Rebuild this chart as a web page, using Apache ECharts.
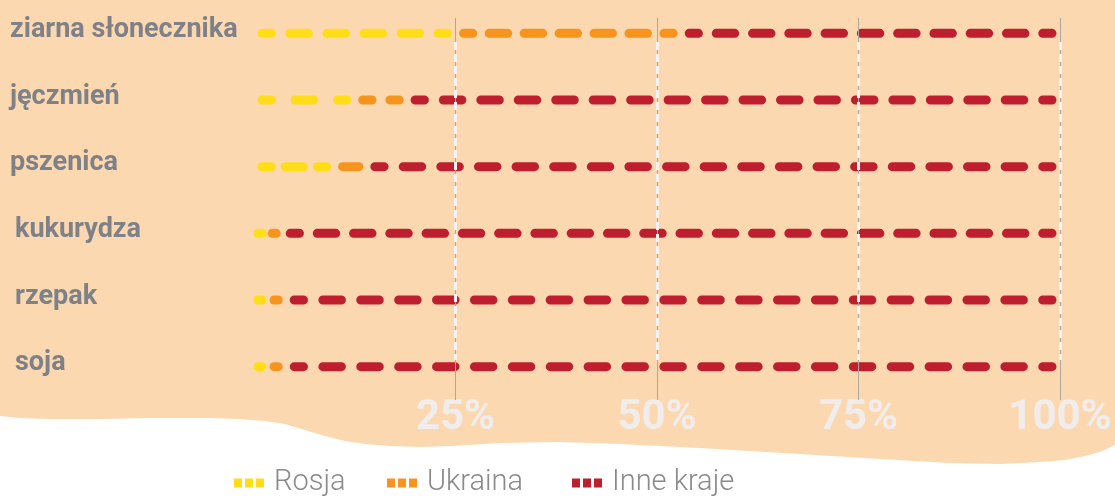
<!DOCTYPE html>
<html>
<head>
<meta charset="utf-8">
<script src="https://cdn.jsdelivr.net/npm/echarts@6/dist/echarts.min.js"></script>
<style>html,body{margin:0;padding:0;background:#fff}#c{width:1115px;height:500px}</style>
</head>
<body>
<div id="c"></div>
<script>
const categories = ['ziarna słonecznika', 'jęczmień', 'pszenica', 'kukurydza', 'rzepak', 'soja'];
const seriesNames = ['Rosja', 'Ukraina', 'Inne kraje'];
const rosja = [25, 12.5, 10, 1.5, 1.5, 1.5];
const ukraina = [28, 6.5, 4, 2, 2.5, 2.5];
const inne = [47, 81, 86, 96.5, 96, 96];
const xTicks = [0, 25, 50, 75, 100];

const colors = ['#FFDD17', '#F7941D', '#BE1E2D'];
const font = "Roboto, 'DejaVu Sans Condensed', sans-serif";

const all = [rosja, ukraina, inne];
const stacked = all.map((arr, si) => arr.map((v, ci) => {
  let start = 0;
  for (let k = 0; k < si; k++) start += all[k][ci];
  return [start, start + v, ci];
}));

const DASH = 18.5, PERIOD = 37;
function renderItem(params, api) {
  const s = api.value(0), e = api.value(1), c = api.value(2);
  const p0 = api.coord([s, c]);
  const p1 = api.coord([e, c]);
  const len = p1[0] - p0[0];
  const inset = Math.min(8, Math.max(0, len / 2 - 2));
  const x0 = p0[0] + inset, x1 = p1[0] - inset;
  const lu = x1 - x0;
  const style = { stroke: api.visual('color'), lineWidth: 9, lineCap: 'round' };
  if (lu >= DASH + 4) {
    let n = Math.max(1, Math.round(lu / PERIOD));
    let gap = lu / n - DASH;
    if (n > 1 && gap < 8) { n -= 1; gap = lu / n - DASH; }
    style.lineDash = [DASH, gap];
    style.lineDashOffset = DASH / 2;
  }
  return {
    type: 'line',
    shape: { x1: x0, y1: p0[1], x2: x1, y2: p0[1] },
    style: style
  };
}

const bgShape = [[0,0],[1115,0],[1115,445],[1100,452],[1085,456],[1065,460],[1040,462],[1000,464],[950,463],[880,459],[800,454],[700,448],[620,444],[560,442],[500,443],[450,446],[420,447],[390,446],[365,444],[345,441],[325,436],[305,430],[285,424],[265,421],[240,419],[210,418],[150,418],[100,419],[50,419],[20,418],[0,416]];

const chart = echarts.init(document.getElementById('c'), null, { renderer: 'canvas' });
const legendIcon = 'path://M0,0H8V9H0Z M11,0H19V9H11Z M22,0H30V9H22Z';
const legendBase = {
  orient: 'horizontal', top: 465, padding: 0, itemWidth: 30, itemHeight: 9, icon: legendIcon,
  selectedMode: false,
  textStyle: { fontFamily: font, fontWeight: 300, fontSize: 29, color: '#8a8a8a', lineHeight: 36, padding: [0, 0, 0, 5] }
};
const lefts = [234, 387, 572];

chart.setOption({
  animation: false,
  color: colors,
  graphic: [{
    type: 'polygon',
    z: -10,
    silent: true,
    shape: { points: bgShape },
    style: { fill: '#FBD8B0' }
  }],
  legend: seriesNames.map((n, i) => Object.assign({}, legendBase, { data: [n], left: lefts[i] })),
  grid: [
    { left: 254, right: 55, top: 0, height: 400 },
    { left: 254, right: 55, top: 18, height: 382 },
    { left: 254, right: 55, top: 42, height: 318 }
  ],
  xAxis: [
    {
      gridIndex: 0, type: 'value', min: xTicks[0], max: xTicks[xTicks.length - 1], interval: 25,
      axisLine: { show: false }, axisTick: { show: false }, splitLine: { show: false },
      axisLabel: {
        showMinLabel: false, margin: 18, verticalAlign: 'middle',
        formatter: v => v === 0 ? '' : v + '%',
        fontFamily: font, fontWeight: 'bold', fontSize: 42, color: '#F1EDED'
      }
    },
    {
      gridIndex: 1, type: 'value', min: 0, max: 100, interval: 25, z: 5,
      axisLine: { show: false }, axisTick: { show: false }, axisLabel: { show: false },
      splitLine: { show: true, showMinLine: false, lineStyle: { color: '#AFA79C', width: 1 } }
    },
    {
      gridIndex: 2, type: 'value', min: 0, max: 100, interval: 25, z: 6,
      axisLine: { show: false }, axisTick: { show: false }, axisLabel: { show: false },
      splitLine: { show: true, showMinLine: false, lineStyle: { color: '#F5F3F1', width: 3, type: [8, 4] } }
    }
  ],
  yAxis: [
    {
      gridIndex: 0, type: 'category', inverse: true, data: categories,
      axisLine: { show: false }, axisTick: { show: false }, splitLine: { show: false },
      axisLabel: {
        align: 'left', margin: 244, interval: 0,
        formatter: (v, i) => (i < 3 ? '{a|' : '{b|') + v + '}',
        rich: {
          a: { fontFamily: font, fontWeight: 'bold', fontSize: 27, color: '#7E8187', padding: [0, 0, 6, 0] },
          b: { fontFamily: font, fontWeight: 'bold', fontSize: 27, color: '#7E8187', padding: [0, 0, 6, 5] }
        }
      }
    },
    { gridIndex: 1, type: 'value', min: 0, max: 1, show: false },
    { gridIndex: 2, type: 'value', min: 0, max: 1, show: false }
  ],
  series: seriesNames.map((n, i) => ({
    name: n,
    type: 'custom',
    xAxisIndex: 0, yAxisIndex: 0,
    renderItem: renderItem,
    encode: { x: [0, 1], y: 2 },
    data: stacked[i],
    z: 2
  }))
});
</script>
</body>
</html>
